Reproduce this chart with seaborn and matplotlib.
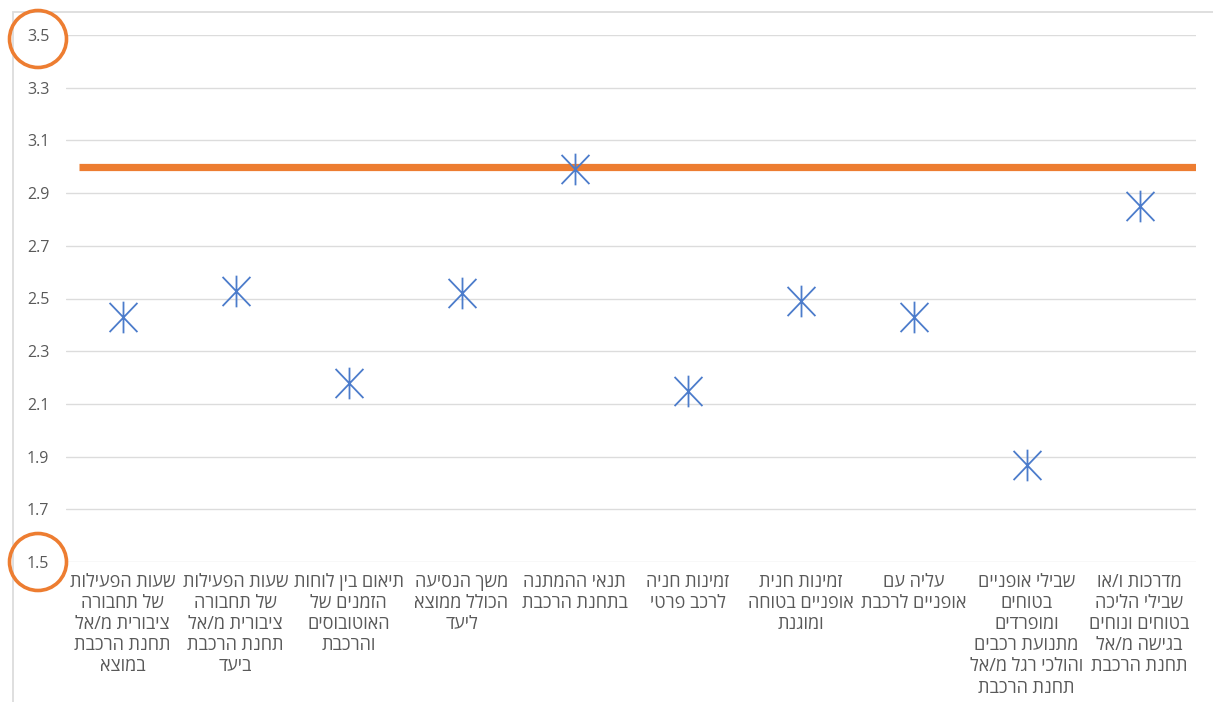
import numpy as np
import pandas as pd
import matplotlib
matplotlib.use("Agg")
import matplotlib.pyplot as plt
from matplotlib.path import Path
from matplotlib.patches import Rectangle, Ellipse
import seaborn as sns

# Survey items (logical Hebrew order, one entry per line of the label)
categories = [
    "שעות הפעילות\nשל תחבורה\nציבורית מ/אל\nתחנת הרכבת\nבמוצא",
    "שעות הפעילות\nשל תחבורה\nציבורית מ/אל\nתחנת הרכבת\nביעד",
    "תיאום בין לוחות\nהזמנים של\nהאוטובוסים\nוהרכבת",
    "משך הנסיעה\nהכולל ממוצא\nליעד",
    "תנאי ההמתנה\nבתחנת הרכבת",
    "זמינות חניה\nלרכב פרטי",
    "זמינות חנית\nאופניים בטוחה\nומוגנת",
    "עליה עם\nאופניים לרכבת",
    "שבילי אופניים\nבטוחים\nומופרדים\nמתנועת רכבים\nוהולכי רגל מ/אל\nתחנת הרכבת",
    "מדרכות ו/או\nשבילי הליכה\nבטוחים ונוחים\nבגישה מ/אל\nתחנת הרכבת",
]
scores = [2.43, 2.53, 2.18, 2.52, 2.99, 2.15, 2.49, 2.43, 1.87, 2.85]
threshold = 3.0
y_ticks = [1.5, 1.7, 1.9, 2.1, 2.3, 2.5, 2.7, 2.9, 3.1, 3.3, 3.5]
y_tick_labels = ["1.5", "1.7", "1.9", "2.1", "2.3", "2.5", "2.7", "2.9", "3.1", "3.3", "3.5"]

BLUE = "#4C7CCB"
ORANGE = "#ED7D31"
GRID = "#DCDCDC"
TEXT = "#595959"

W, H = 1213, 702

sns.set_theme(style="white")
plt.rcParams["font.family"] = ["Open Sans", "Liberation Sans", "DejaVu Sans"]


def rtl(label):
    # matplotlib lays text out left to right, so each Hebrew line is reversed
    return "\n".join(line[::-1] for line in label.split("\n"))


df = pd.DataFrame({"pos": np.arange(len(categories)), "score": scores})

fig = plt.figure(figsize=(W / 100, H / 100), dpi=100)
ax = fig.add_axes([66 / W, 1 - 562 / H, 1130 / W, (562 - 35) / H])

# asterisk marker: an X with a vertical stroke through it
asterisk = Path(
    [(0, -1), (0, 1), (-0.88, -0.92), (0.88, 0.92), (-0.88, 0.92), (0.88, -0.92)],
    [Path.MOVETO, Path.LINETO, Path.MOVETO, Path.LINETO, Path.MOVETO, Path.LINETO],
)

ax.axhline(threshold, xmin=(79 - 66) / 1130, xmax=1.0, color=ORANGE, lw=5.2,
           solid_capstyle="butt", zorder=2)

sns.scatterplot(data=df, x="pos", y="score", marker=asterisk, s=520,
                color=BLUE, edgecolor=BLUE, linewidth=1.3, legend=False,
                ax=ax, zorder=3)

ax.set_xlim(-0.5, len(categories) - 0.5)
ax.set_ylim(1.5, 3.5)
ax.set_yticks(y_ticks)
ax.set_yticklabels(y_tick_labels, fontsize=11.5, color=TEXT)
ax.set_xticks(np.arange(len(categories)))
ax.set_xticklabels([rtl(c) for c in categories], fontsize=13, color=TEXT,
                   linespacing=1.22)
ax.tick_params(axis="y", length=0, pad=12)
ax.tick_params(axis="x", length=0, pad=8)
ax.set_xlabel("")
ax.set_ylabel("")
ax.grid(axis="y", color=GRID, lw=1.0)
ax.grid(axis="x", visible=False)
for s in ax.spines.values():
    s.set_visible(False)

# chart frame
fig.add_artist(Rectangle((13 / W, -0.1), 1.2, 1.1 - 12 / H,
                         transform=fig.transFigure, fill=False, ec=GRID, lw=1.3))

# highlight circles around the end values of the axis
for cy in (39, 562):
    fig.add_artist(Ellipse((38 / W, 1 - cy / H), 57 / W, 57 / H,
                           transform=fig.transFigure, fill=False,
                           ec=ORANGE, lw=2.6))

fig.savefig("out.png", dpi=100)
